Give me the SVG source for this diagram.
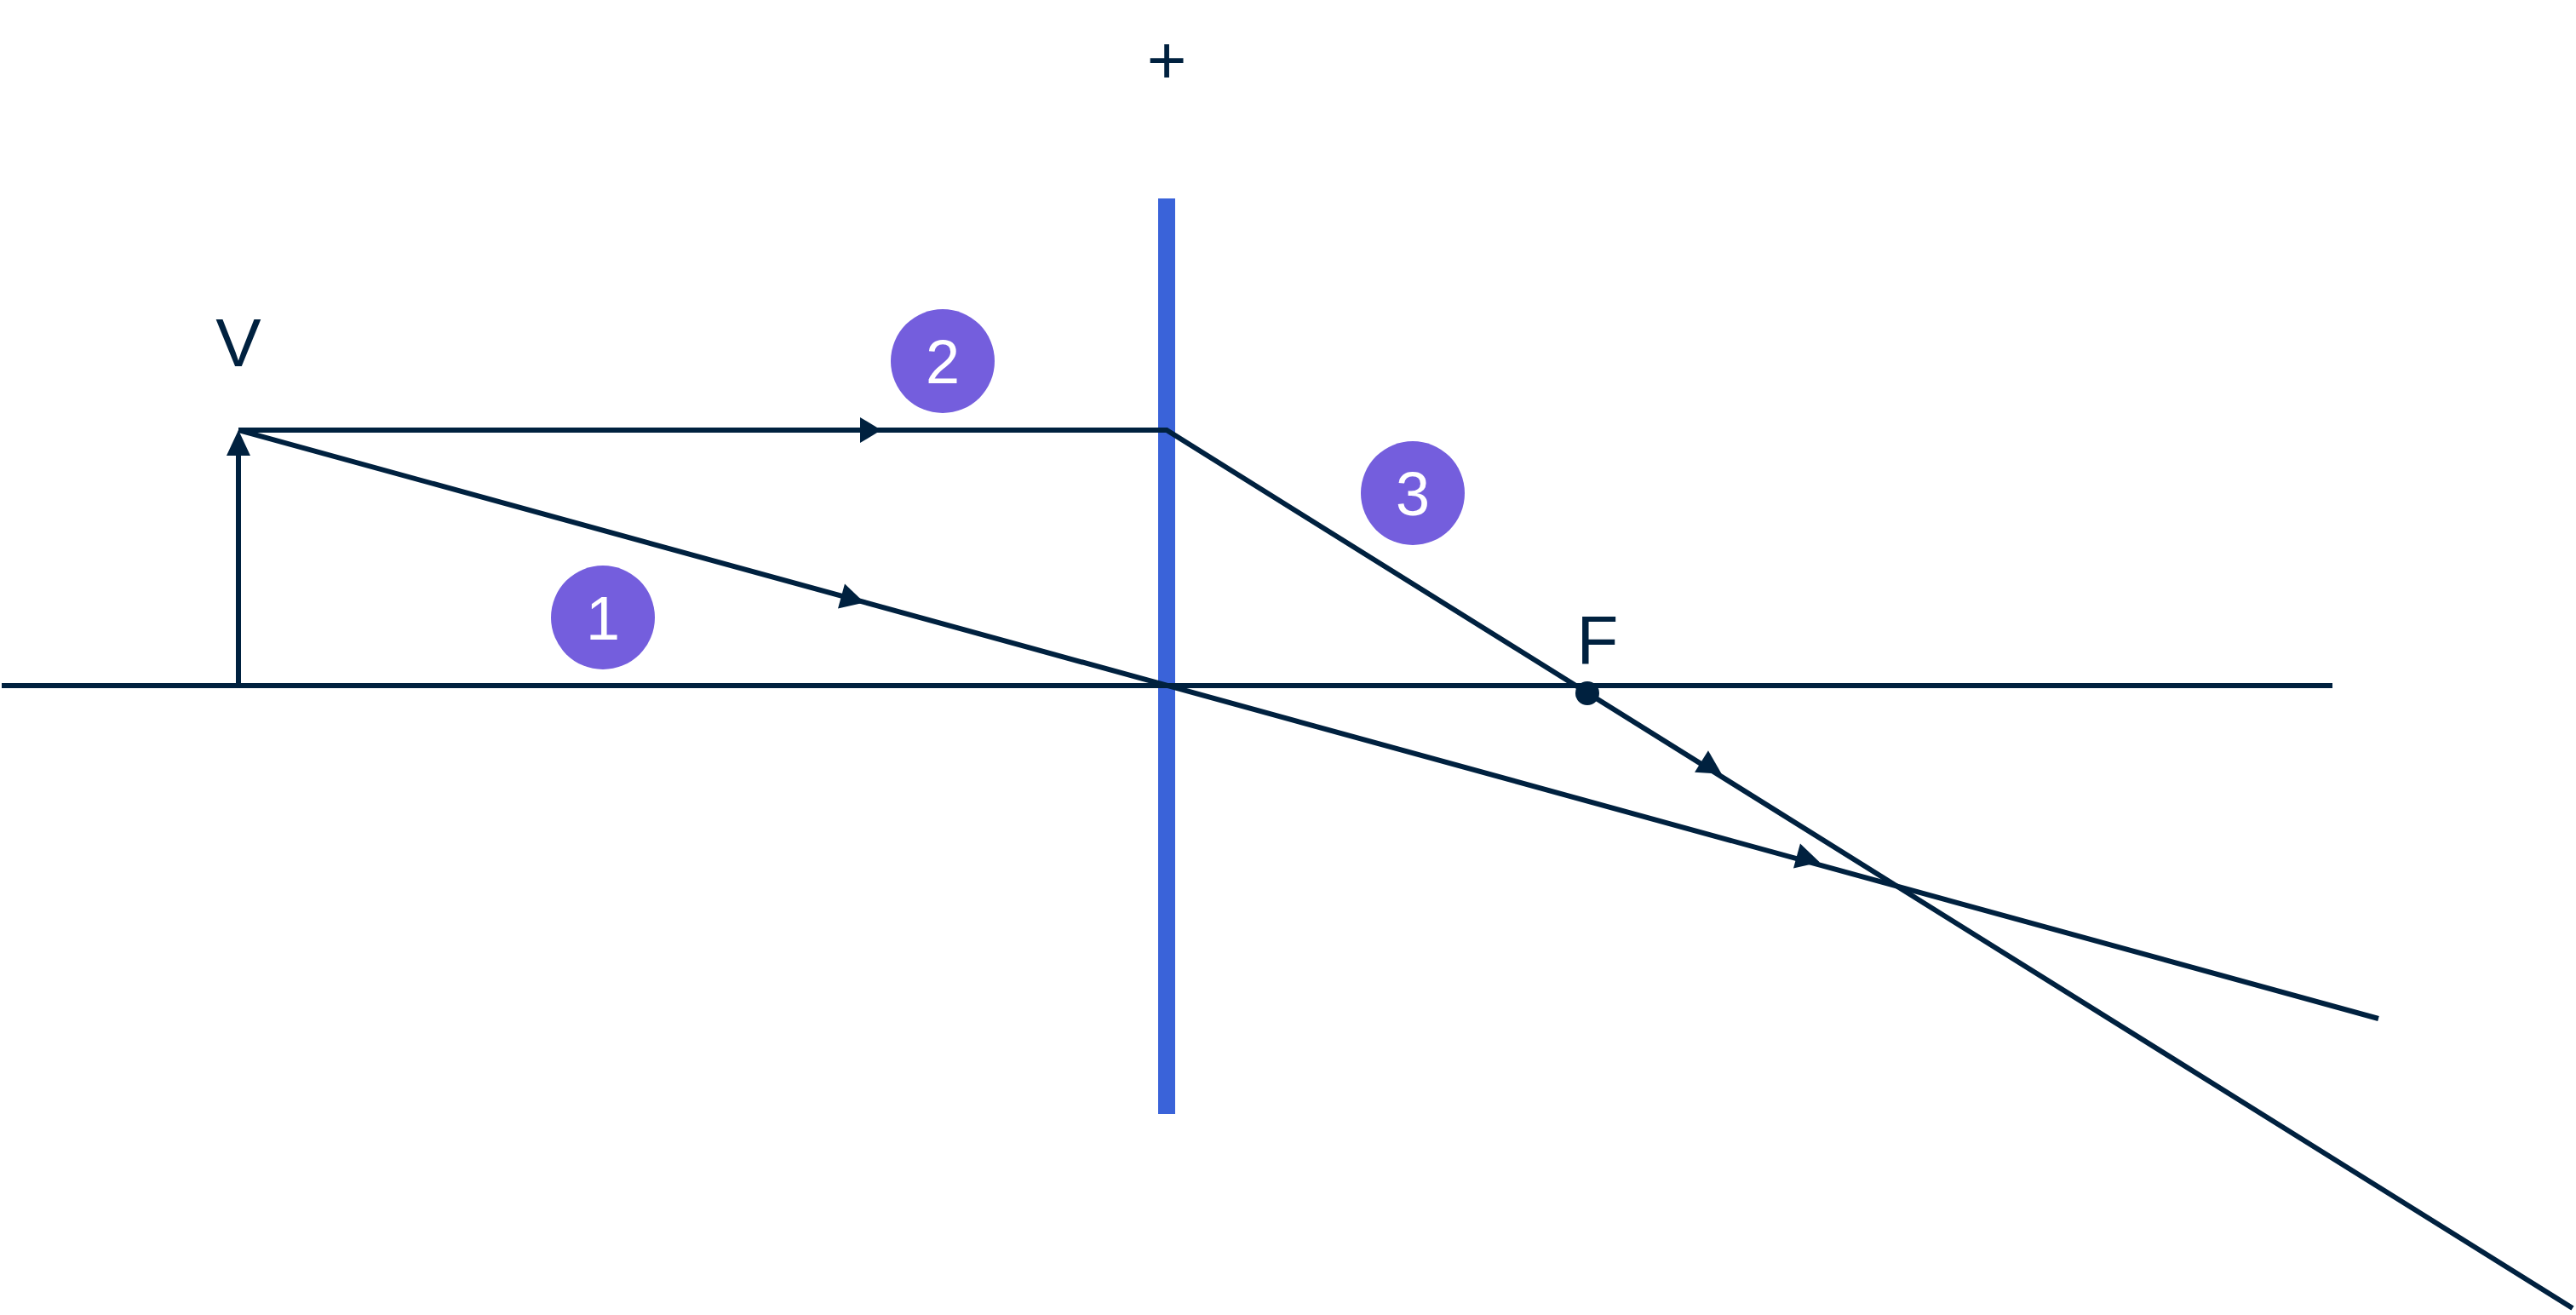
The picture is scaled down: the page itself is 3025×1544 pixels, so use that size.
<svg xmlns="http://www.w3.org/2000/svg" width="3025" height="1544" viewBox="0 0 3025 1544">
<style>
.ray{stroke:#00213F;stroke-width:6;fill:none}
.lbl{font-family:"Liberation Sans",Arial,sans-serif;fill:#00213F;font-size:80px;text-anchor:middle}
.num{font-family:"Liberation Sans",Arial,sans-serif;fill:#fff;font-size:72px;text-anchor:middle}
.badge{fill:#745EDD}
</style>
<defs>
<marker id="ah" viewBox="0 0 10 10" refX="5" refY="5" markerWidth="6" markerHeight="6" markerUnits="strokeWidth" orient="auto"><path d="M0,0L10,5L0,10z" fill="#00213F"/></marker>
</defs>
<rect width="3025" height="1544" fill="#fff"/>
<g id="lens"><rect x="1360" y="233" width="20" height="1075" fill="#3A63D9"/><text class="lbl" x="1370" y="98" font-size="70">+</text></g>
<g id="connectors">
<line class="ray" x1="2" y1="805" x2="2739" y2="805"/>
<line class="ray" x1="280" y1="805" x2="280" y2="520"/>
<path d="M280,505l-14,30h28z" fill="#00213F"/>
<path class="ray" d="M280,505H1370L3021,1536"/>
<path class="ray" d="M280,505L2793,1196"/>
<path d="M1010,490l25,15l-25,15z" fill="#00213F"/>
<g fill="#00213F">
<path d="M0,-15L28,0L0,15z" transform="translate(988,700) rotate(15.4)"/>
<path d="M0,-15L28,0L0,15z" transform="translate(2110,1005) rotate(15.4)"/>
<path d="M0,-15L28,0L0,15z" transform="translate(1998,894) rotate(32)"/>
</g>
</g>
<g id="object"><text class="lbl" x="280" y="430">V</text></g>
<g id="focus"><circle cx="1864" cy="814" r="14" fill="#00213F"/><text class="lbl" x="1876" y="779">F</text></g>
<g id="b1"><circle class="badge" cx="708" cy="725" r="61"/><text class="num" x="708" y="751">1</text></g>
<g id="b2"><circle class="badge" cx="1107" cy="424" r="61"/><text class="num" x="1107" y="450">2</text></g>
<g id="b3"><circle class="badge" cx="1659" cy="579" r="61"/><text class="num" x="1659" y="605">3</text></g>
</svg>
